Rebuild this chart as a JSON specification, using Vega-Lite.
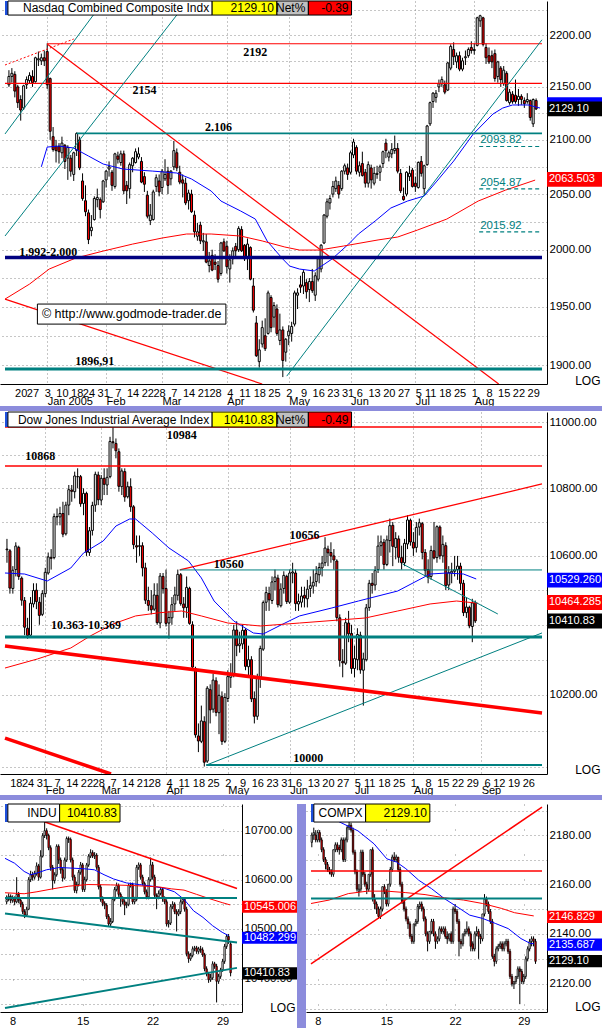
{
"$schema":"https://vega.github.io/schema/vega-lite/v6.json",
"padding":0,
"background":"#ffffff",
"config":{"view":{"stroke":null},"font":"Liberation Sans","axis":{"labelFont":"Liberation Sans","labelColor":"#000000","titleFont":"Liberation Sans","titleColor":"#000000"}},
"datasets":{
"nq":[{"i":-4,"o":2152,"h":2166,"l":2150,"c":2160},{"i":-3,"o":2160,"h":2168,"l":2154,"c":2163},{"i":-2,"o":2162,"h":2165,"l":2140,"c":2146},{"i":-1,"o":2150,"h":2152,"l":2130,"c":2135},{"i":0,"o":2138,"h":2142,"l":2118,"c":2128},{"i":1,"o":2130,"h":2152,"l":2128,"c":2151},{"i":2,"o":2152,"h":2160,"l":2148,"c":2157},{"i":3,"o":2156,"h":2164,"l":2153,"c":2161},{"i":4,"o":2160,"h":2166,"l":2150,"c":2154},{"i":5,"o":2155,"h":2179,"l":2154,"c":2178},{"i":6,"o":2176,"h":2184,"l":2170,"c":2177},{"i":7,"o":2175,"h":2182,"l":2171,"c":2178},{"i":8,"o":2178,"h":2185,"l":2170,"c":2175},{"i":9,"o":2184,"h":2192,"l":2148,"c":2152},{"i":10,"o":2158,"h":2159,"l":2100,"c":2108},{"i":11,"o":2103,"h":2112,"l":2089,"c":2091},{"i":12,"o":2094,"h":2100,"l":2079,"c":2090},{"i":13,"o":2094,"h":2097,"l":2078,"c":2089},{"i":14,"o":2088,"h":2103,"l":2083,"c":2097},{"i":15,"o":2095,"h":2096,"l":2073,"c":2080},{"i":16,"o":2083,"h":2095,"l":2063,"c":2093},{"i":17,"o":2083,"h":2086,"l":2066,"c":2071},{"i":18,"o":2068,"h":2089,"l":2062,"c":2088},{"i":19,"o":2090,"h":2107,"l":2085,"c":2106},{"i":20,"o":2100,"h":2103,"l":2072,"c":2074},{"i":21,"o":2062,"h":2069,"l":2044,"c":2046},{"i":22,"o":2044,"h":2058,"l":2030,"c":2034},{"i":23,"o":2033,"h":2036,"l":2005,"c":2009},{"i":24,"o":2017,"h":2031,"l":2012,"c":2020},{"i":25,"o":2027,"h":2048,"l":2026,"c":2046},{"i":26,"o":2045,"h":2055,"l":2038,"c":2047},{"i":27,"o":2045,"h":2047,"l":2028,"c":2036},{"i":28,"o":2043,"h":2063,"l":2042,"c":2062},{"i":29,"o":2063,"h":2072,"l":2056,"c":2071},{"i":30,"o":2073,"h":2080,"l":2066,"c":2075},{"i":31,"o":2070,"h":2072,"l":2053,"c":2058},{"i":32,"o":2057,"h":2088,"l":2055,"c":2087},{"i":33,"o":2085,"h":2089,"l":2078,"c":2082},{"i":34,"o":2079,"h":2090,"l":2076,"c":2087},{"i":35,"o":2087,"h":2090,"l":2050,"c":2053},{"i":36,"o":2058,"h":2062,"l":2041,"c":2053},{"i":37,"o":2055,"h":2079,"l":2046,"c":2077},{"i":38,"o":2076,"h":2084,"l":2070,"c":2083},{"i":39,"o":2079,"h":2092,"l":2078,"c":2089},{"i":40,"o":2084,"h":2093,"l":2082,"c":2087},{"i":41,"o":2080,"h":2084,"l":2060,"c":2061},{"i":42,"o":2066,"h":2070,"l":2052,"c":2059},{"i":43,"o":2049,"h":2053,"l":2028,"c":2030},{"i":44,"o":2026,"h":2041,"l":2022,"c":2031},{"i":45,"o":2027,"h":2054,"l":2026,"c":2052},{"i":46,"o":2057,"h":2068,"l":2052,"c":2065},{"i":47,"o":2062,"h":2068,"l":2048,"c":2052},{"i":48,"o":2056,"h":2073,"l":2050,"c":2071},{"i":49,"o":2064,"h":2082,"l":2062,"c":2068},{"i":50,"o":2071,"h":2075,"l":2050,"c":2058},{"i":51,"o":2064,"h":2072,"l":2058,"c":2071},{"i":52,"o":2075,"h":2099,"l":2072,"c":2090},{"i":53,"o":2088,"h":2092,"l":2071,"c":2074},{"i":54,"o":2070,"h":2076,"l":2059,"c":2061},{"i":55,"o":2063,"h":2068,"l":2047,"c":2060},{"i":56,"o":2060,"h":2065,"l":2040,"c":2042},{"i":57,"o":2044,"h":2054,"l":2036,"c":2051},{"i":58,"o":2050,"h":2054,"l":2033,"c":2034},{"i":59,"o":2031,"h":2035,"l":2011,"c":2016},{"i":60,"o":2012,"h":2024,"l":2008,"c":2016},{"i":61,"o":2022,"h":2025,"l":2005,"c":2008},{"i":62,"o":2007,"h":2015,"l":1999,"c":2008},{"i":63,"o":2007,"h":2014,"l":1988,"c":1989},{"i":64,"o":1986,"h":1998,"l":1980,"c":1990},{"i":65,"o":1995,"h":2000,"l":1981,"c":1982},{"i":66,"o":1989,"h":1996,"l":1982,"c":1987},{"i":67,"o":1986,"h":1990,"l":1971,"c":1974},{"i":68,"o":1979,"h":2007,"l":1977,"c":2006},{"i":69,"o":2007,"h":2010,"l":1998,"c":1999},{"i":70,"o":2003,"h":2008,"l":1979,"c":1985},{"i":71,"o":1983,"h":1996,"l":1971,"c":1991},{"i":72,"o":1992,"h":2002,"l":1987,"c":1999},{"i":73,"o":2003,"h":2006,"l":1994,"c":1999},{"i":74,"o":2000,"h":2021,"l":1998,"c":2019},{"i":75,"o":2018,"h":2021,"l":1998,"c":1999},{"i":76,"o":2004,"h":2005,"l":1990,"c":1992},{"i":77,"o":1993,"h":2010,"l":1982,"c":2005},{"i":78,"o":2002,"h":2003,"l":1973,"c":1974},{"i":79,"o":1968,"h":1975,"l":1945,"c":1947},{"i":80,"o":1936,"h":1942,"l":1907,"c":1908},{"i":81,"o":1903,"h":1922,"l":1898,"c":1913},{"i":82,"o":1918,"h":1938,"l":1915,"c":1932},{"i":83,"o":1925,"h":1940,"l":1912,"c":1914},{"i":84,"o":1927,"h":1964,"l":1926,"c":1962},{"i":85,"o":1958,"h":1960,"l":1928,"c":1932},{"i":86,"o":1941,"h":1954,"l":1932,"c":1951},{"i":87,"o":1948,"h":1952,"l":1925,"c":1927},{"i":88,"o":1921,"h":1944,"l":1917,"c":1930},{"i":89,"o":1930,"h":1933,"l":1890,"c":1904},{"i":90,"o":1911,"h":1923,"l":1903,"c":1922},{"i":91,"o":1925,"h":1934,"l":1917,"c":1929},{"i":92,"o":1927,"h":1937,"l":1920,"c":1933},{"i":93,"o":1935,"h":1964,"l":1933,"c":1962},{"i":94,"o":1960,"h":1966,"l":1948,"c":1962},{"i":95,"o":1969,"h":1977,"l":1962,"c":1967},{"i":96,"o":1968,"h":1982,"l":1961,"c":1980},{"i":97,"o":1971,"h":1974,"l":1957,"c":1963},{"i":98,"o":1965,"h":1975,"l":1954,"c":1972},{"i":99,"o":1972,"h":1983,"l":1962,"c":1964},{"i":100,"o":1960,"h":1980,"l":1955,"c":1977},{"i":101,"o":1974,"h":1993,"l":1972,"c":1992},{"i":102,"o":1983,"h":2005,"l":1980,"c":2004},{"i":103,"o":2006,"h":2032,"l":2005,"c":2031},{"i":104,"o":2030,"h":2046,"l":2028,"c":2043},{"i":105,"o":2042,"h":2049,"l":2036,"c":2046},{"i":106,"o":2050,"h":2062,"l":2047,"c":2057},{"i":107,"o":2055,"h":2066,"l":2052,"c":2062},{"i":108,"o":2058,"h":2062,"l":2046,"c":2050},{"i":109,"o":2055,"h":2072,"l":2053,"c":2071},{"i":110,"o":2071,"h":2078,"l":2068,"c":2076},{"i":111,"o":2074,"h":2078,"l":2063,"c":2068},{"i":112,"o":2070,"h":2090,"l":2068,"c":2088},{"i":113,"o":2086,"h":2101,"l":2083,"c":2098},{"i":114,"o":2093,"h":2095,"l":2068,"c":2071},{"i":115,"o":2070,"h":2080,"l":2066,"c":2076},{"i":116,"o":2078,"h":2089,"l":2066,"c":2067},{"i":117,"o":2070,"h":2073,"l":2056,"c":2060},{"i":118,"o":2060,"h":2080,"l":2056,"c":2077},{"i":119,"o":2074,"h":2077,"l":2055,"c":2063},{"i":120,"o":2060,"h":2075,"l":2058,"c":2069},{"i":121,"o":2068,"h":2076,"l":2064,"c":2069},{"i":122,"o":2070,"h":2077,"l":2062,"c":2075},{"i":123,"o":2078,"h":2090,"l":2074,"c":2089},{"i":124,"o":2097,"h":2101,"l":2083,"c":2090},{"i":125,"o":2084,"h":2090,"l":2080,"c":2088},{"i":126,"o":2087,"h":2097,"l":2083,"c":2091},{"i":127,"o":2090,"h":2104,"l":2087,"c":2092},{"i":128,"o":2092,"h":2097,"l":2069,"c":2071},{"i":129,"o":2069,"h":2073,"l":2051,"c":2053},{"i":130,"o":2048,"h":2056,"l":2044,"c":2045},{"i":131,"o":2050,"h":2071,"l":2048,"c":2070},{"i":132,"o":2066,"h":2076,"l":2062,"c":2069},{"i":133,"o":2072,"h":2074,"l":2056,"c":2057},{"i":134,"o":2060,"h":2066,"l":2052,"c":2057},{"i":135,"o":2056,"h":2080,"l":2055,"c":2079},{"i":136,"o":2080,"h":2085,"l":2066,"c":2069},{"i":137,"o":2055,"h":2077,"l":2050,"c":2076},{"i":138,"o":2077,"h":2114,"l":2076,"c":2113},{"i":139,"o":2115,"h":2136,"l":2113,"c":2135},{"i":140,"o":2136,"h":2145,"l":2130,"c":2144},{"i":141,"o":2140,"h":2147,"l":2135,"c":2144},{"i":142,"o":2150,"h":2157,"l":2145,"c":2153},{"i":143,"o":2153,"h":2160,"l":2150,"c":2157},{"i":144,"o":2152,"h":2156,"l":2143,"c":2145},{"i":145,"o":2147,"h":2174,"l":2146,"c":2173},{"i":146,"o":2168,"h":2191,"l":2166,"c":2189},{"i":147,"o":2186,"h":2193,"l":2171,"c":2179},{"i":148,"o":2174,"h":2183,"l":2168,"c":2180},{"i":149,"o":2180,"h":2184,"l":2165,"c":2167},{"i":150,"o":2167,"h":2178,"l":2165,"c":2175},{"i":151,"o":2178,"h":2185,"l":2171,"c":2179},{"i":152,"o":2180,"h":2188,"l":2178,"c":2186},{"i":153,"o":2188,"h":2194,"l":2182,"c":2185},{"i":154,"o":2185,"h":2192,"l":2181,"c":2186},{"i":155,"o":2190,"h":2218,"l":2189,"c":2217},{"i":156,"o":2214,"h":2220,"l":2208,"c":2219},{"i":157,"o":2217,"h":2218,"l":2189,"c":2191},{"i":158,"o":2188,"h":2192,"l":2172,"c":2178},{"i":159,"o":2180,"h":2188,"l":2172,"c":2174},{"i":160,"o":2180,"h":2185,"l":2168,"c":2174},{"i":161,"o":2182,"h":2186,"l":2155,"c":2158},{"i":162,"o":2160,"h":2175,"l":2154,"c":2174},{"i":163,"o":2168,"h":2170,"l":2150,"c":2157},{"i":164,"o":2153,"h":2170,"l":2151,"c":2166},{"i":165,"o":2163,"h":2165,"l":2136,"c":2137},{"i":166,"o":2135,"h":2148,"l":2133,"c":2145},{"i":167,"o":2143,"h":2146,"l":2134,"c":2136},{"i":168,"o":2142,"h":2157,"l":2134,"c":2136},{"i":169,"o":2138,"h":2148,"l":2132,"c":2141},{"i":170,"o":2141,"h":2143,"l":2133,"c":2138},{"i":171,"o":2137,"h":2140,"l":2130,"c":2134},{"i":172,"o":2136,"h":2144,"l":2134,"c":2138},{"i":173,"o":2137,"h":2138,"l":2118,"c":2121},{"i":174,"o":2115,"h":2139,"l":2112,"c":2138},{"i":175,"o":2137,"h":2139,"l":2128,"c":2129}],
"dj":[{"i":16,"o":10620,"h":10650,"l":10580,"c":10618},{"i":17,"o":10615,"h":10620,"l":10490,"c":10506},{"i":18,"o":10505,"h":10570,"l":10490,"c":10558},{"i":19,"o":10560,"h":10640,"l":10540,"c":10629},{"i":20,"o":10625,"h":10630,"l":10530,"c":10540},{"i":21,"o":10535,"h":10540,"l":10455,"c":10471},{"i":22,"o":10470,"h":10480,"l":10370,"c":10393},{"i":23,"o":10390,"h":10420,"l":10360,"c":10369},{"i":24,"o":10370,"h":10480,"l":10365,"c":10462},{"i":25,"o":10460,"h":10520,"l":10450,"c":10499},{"i":26,"o":10500,"h":10520,"l":10445,"c":10467},{"i":27,"o":10465,"h":10480,"l":10400,"c":10427},{"i":28,"o":10430,"h":10500,"l":10425,"c":10490},{"i":29,"o":10490,"h":10565,"l":10480,"c":10552},{"i":30,"o":10550,"h":10610,"l":10545,"c":10597},{"i":31,"o":10595,"h":10620,"l":10560,"c":10593},{"i":32,"o":10595,"h":10725,"l":10590,"c":10716},{"i":33,"o":10715,"h":10740,"l":10690,"c":10716},{"i":34,"o":10715,"h":10745,"l":10690,"c":10725},{"i":35,"o":10725,"h":10760,"l":10655,"c":10664},{"i":36,"o":10665,"h":10760,"l":10660,"c":10750},{"i":37,"o":10750,"h":10810,"l":10720,"c":10796},{"i":38,"o":10795,"h":10810,"l":10760,"c":10791},{"i":39,"o":10790,"h":10850,"l":10770,"c":10837},{"i":40,"o":10835,"h":10860,"l":10800,"c":10835},{"i":41,"o":10835,"h":10840,"l":10745,"c":10754},{"i":42,"o":10755,"h":10800,"l":10720,"c":10785},{"i":43,"o":10785,"h":10790,"l":10600,"c":10611},{"i":44,"o":10610,"h":10685,"l":10600,"c":10674},{"i":45,"o":10675,"h":10760,"l":10660,"c":10749},{"i":46,"o":10750,"h":10850,"l":10730,"c":10842},{"i":47,"o":10840,"h":10850,"l":10750,"c":10766},{"i":48,"o":10765,"h":10840,"l":10750,"c":10830},{"i":49,"o":10830,"h":10860,"l":10780,"c":10812},{"i":50,"o":10810,"h":10860,"l":10780,"c":10833},{"i":51,"o":10835,"h":10955,"l":10830,"c":10941},{"i":52,"o":10940,"h":10984,"l":10920,"c":10937},{"i":53,"o":10935,"h":10950,"l":10890,"c":10913},{"i":54,"o":10910,"h":10920,"l":10790,"c":10806},{"i":55,"o":10805,"h":10860,"l":10780,"c":10852},{"i":56,"o":10850,"h":10860,"l":10760,"c":10774},{"i":57,"o":10775,"h":10820,"l":10770,"c":10805},{"i":58,"o":10805,"h":10830,"l":10730,"c":10745},{"i":59,"o":10745,"h":10750,"l":10620,"c":10633},{"i":60,"o":10630,"h":10660,"l":10580,"c":10626},{"i":61,"o":10628,"h":10660,"l":10600,"c":10630},{"i":62,"o":10630,"h":10640,"l":10540,"c":10565},{"i":63,"o":10565,"h":10580,"l":10460,"c":10471},{"i":64,"o":10470,"h":10510,"l":10440,"c":10456},{"i":65,"o":10455,"h":10500,"l":10430,"c":10443},{"i":66,"o":10445,"h":10520,"l":10440,"c":10486},{"i":67,"o":10485,"h":10520,"l":10400,"c":10406},{"i":68,"o":10405,"h":10550,"l":10390,"c":10541},{"i":69,"o":10540,"h":10550,"l":10490,"c":10504},{"i":70,"o":10505,"h":10560,"l":10395,"c":10404},{"i":71,"o":10405,"h":10440,"l":10360,"c":10421},{"i":72,"o":10420,"h":10480,"l":10400,"c":10458},{"i":73,"o":10460,"h":10510,"l":10440,"c":10486},{"i":74,"o":10485,"h":10560,"l":10470,"c":10546},{"i":75,"o":10545,"h":10550,"l":10455,"c":10461},{"i":76,"o":10460,"h":10480,"l":10420,"c":10449},{"i":77,"o":10450,"h":10540,"l":10420,"c":10508},{"i":78,"o":10505,"h":10510,"l":10400,"c":10404},{"i":79,"o":10400,"h":10410,"l":10270,"c":10279},{"i":80,"o":10275,"h":10280,"l":10080,"c":10088},{"i":81,"o":10085,"h":10120,"l":10040,"c":10071},{"i":82,"o":10070,"h":10170,"l":10065,"c":10127},{"i":83,"o":10125,"h":10140,"l":10000,"c":10012},{"i":84,"o":10015,"h":10225,"l":10010,"c":10219},{"i":85,"o":10215,"h":10230,"l":10120,"c":10158},{"i":86,"o":10160,"h":10260,"l":10150,"c":10242},{"i":87,"o":10240,"h":10250,"l":10140,"c":10151},{"i":88,"o":10150,"h":10230,"l":10090,"c":10199},{"i":89,"o":10195,"h":10210,"l":10060,"c":10070},{"i":90,"o":10070,"h":10205,"l":10065,"c":10193},{"i":91,"o":10190,"h":10270,"l":10180,"c":10252},{"i":92,"o":10250,"h":10290,"l":10220,"c":10257},{"i":93,"o":10255,"h":10400,"l":10250,"c":10385},{"i":94,"o":10385,"h":10410,"l":10310,"c":10340},{"i":95,"o":10340,"h":10380,"l":10320,"c":10345},{"i":96,"o":10345,"h":10400,"l":10330,"c":10384},{"i":97,"o":10385,"h":10390,"l":10270,"c":10281},{"i":98,"o":10280,"h":10340,"l":10250,"c":10300},{"i":99,"o":10300,"h":10310,"l":10180,"c":10189},{"i":100,"o":10190,"h":10210,"l":10120,"c":10140},{"i":101,"o":10140,"h":10260,"l":10130,"c":10252},{"i":102,"o":10250,"h":10340,"l":10220,"c":10332},{"i":103,"o":10330,"h":10470,"l":10325,"c":10464},{"i":104,"o":10465,"h":10510,"l":10440,"c":10493},{"i":105,"o":10490,"h":10510,"l":10440,"c":10472},{"i":106,"o":10470,"h":10540,"l":10460,"c":10524},{"i":107,"o":10525,"h":10560,"l":10500,"c":10538},{"i":108,"o":10535,"h":10545,"l":10450,"c":10458},{"i":109,"o":10455,"h":10520,"l":10450,"c":10503},{"i":110,"o":10505,"h":10555,"l":10490,"c":10543},{"i":111,"o":10540,"h":10545,"l":10460,"c":10467},{"i":112,"o":10465,"h":10560,"l":10460,"c":10550},{"i":113,"o":10550,"h":10580,"l":10520,"c":10553},{"i":114,"o":10550,"h":10560,"l":10440,"c":10461},{"i":115,"o":10460,"h":10490,"l":10440,"c":10467},{"i":116,"o":10465,"h":10510,"l":10450,"c":10483},{"i":117,"o":10485,"h":10510,"l":10450,"c":10477},{"i":118,"o":10475,"h":10530,"l":10450,"c":10503},{"i":119,"o":10505,"h":10540,"l":10480,"c":10513},{"i":120,"o":10512,"h":10560,"l":10490,"c":10523},{"i":121,"o":10525,"h":10570,"l":10510,"c":10548},{"i":122,"o":10545,"h":10580,"l":10520,"c":10566},{"i":123,"o":10565,"h":10600,"l":10540,"c":10579},{"i":124,"o":10580,"h":10655,"l":10570,"c":10623},{"i":125,"o":10620,"h":10630,"l":10570,"c":10609},{"i":126,"o":10610,"h":10640,"l":10580,"c":10600},{"i":127,"o":10600,"h":10620,"l":10560,"c":10588},{"i":128,"o":10585,"h":10590,"l":10410,"c":10421},{"i":129,"o":10420,"h":10430,"l":10280,"c":10298},{"i":130,"o":10295,"h":10330,"l":10250,"c":10291},{"i":131,"o":10290,"h":10420,"l":10285,"c":10406},{"i":132,"o":10405,"h":10440,"l":10350,"c":10374},{"i":133,"o":10375,"h":10400,"l":10260,"c":10275},{"i":134,"o":10275,"h":10340,"l":10250,"c":10303},{"i":135,"o":10300,"h":10390,"l":10270,"c":10372},{"i":136,"o":10370,"h":10380,"l":10260,"c":10271},{"i":137,"o":10270,"h":10320,"l":10170,"c":10302},{"i":138,"o":10300,"h":10460,"l":10295,"c":10449},{"i":139,"o":10450,"h":10530,"l":10440,"c":10520},{"i":140,"o":10520,"h":10550,"l":10490,"c":10514},{"i":141,"o":10515,"h":10570,"l":10500,"c":10557},{"i":142,"o":10560,"h":10660,"l":10550,"c":10629},{"i":143,"o":10630,"h":10660,"l":10600,"c":10641},{"i":144,"o":10640,"h":10650,"l":10560,"c":10575},{"i":145,"o":10575,"h":10660,"l":10570,"c":10647},{"i":146,"o":10645,"h":10710,"l":10610,"c":10689},{"i":147,"o":10690,"h":10700,"l":10570,"c":10628},{"i":148,"o":10625,"h":10670,"l":10590,"c":10651},{"i":149,"o":10650,"h":10660,"l":10580,"c":10596},{"i":150,"o":10595,"h":10630,"l":10560,"c":10580},{"i":151,"o":10580,"h":10650,"l":10570,"c":10637},{"i":152,"o":10635,"h":10720,"l":10620,"c":10706},{"i":153,"o":10705,"h":10710,"l":10630,"c":10641},{"i":154,"o":10640,"h":10670,"l":10600,"c":10623},{"i":155,"o":10625,"h":10700,"l":10610,"c":10684},{"i":156,"o":10685,"h":10710,"l":10660,"c":10698},{"i":157,"o":10695,"h":10700,"l":10590,"c":10610},{"i":158,"o":10610,"h":10620,"l":10540,"c":10558},{"i":159,"o":10560,"h":10590,"l":10520,"c":10537},{"i":160,"o":10540,"h":10630,"l":10530,"c":10616},{"i":161,"o":10615,"h":10700,"l":10590,"c":10594},{"i":162,"o":10595,"h":10690,"l":10580,"c":10686},{"i":163,"o":10685,"h":10690,"l":10590,"c":10600},{"i":164,"o":10600,"h":10660,"l":10580,"c":10634},{"i":165,"o":10630,"h":10640,"l":10500,"c":10513},{"i":166,"o":10515,"h":10570,"l":10500,"c":10551},{"i":167,"o":10550,"h":10580,"l":10520,"c":10555},{"i":168,"o":10555,"h":10600,"l":10540,"c":10559},{"i":169,"o":10560,"h":10600,"l":10530,"c":10570},{"i":170,"o":10570,"h":10580,"l":10500,"c":10520},{"i":171,"o":10520,"h":10530,"l":10425,"c":10435},{"i":172,"o":10435,"h":10480,"l":10420,"c":10451},{"i":173,"o":10450,"h":10455,"l":10390,"c":10397},{"i":174,"o":10395,"h":10475,"l":10350,"c":10463},{"i":175,"o":10463,"h":10470,"l":10405,"c":10411}],
"du":[{"i":0,"o":10555,"h":10568,"l":10550,"c":10560},{"i":1,"o":10560,"h":10572,"l":10556,"c":10566},{"i":2,"o":10566,"h":10570,"l":10552,"c":10558},{"i":3,"o":10558,"h":10568,"l":10553,"c":10562},{"i":4,"o":10562,"h":10566,"l":10548,"c":10555},{"i":5,"o":10555,"h":10605,"l":10552,"c":10570},{"i":6,"o":10570,"h":10575,"l":10552,"c":10558},{"i":7,"o":10558,"h":10562,"l":10544,"c":10550},{"i":8,"o":10550,"h":10555,"l":10530,"c":10535},{"i":9,"o":10535,"h":10540,"l":10522,"c":10528},{"i":10,"o":10528,"h":10545,"l":10525,"c":10540},{"i":11,"o":10540,"h":10605,"l":10538,"c":10600},{"i":12,"o":10600,"h":10618,"l":10595,"c":10610},{"i":13,"o":10610,"h":10616,"l":10598,"c":10605},{"i":14,"o":10605,"h":10618,"l":10600,"c":10612},{"i":15,"o":10612,"h":10635,"l":10608,"c":10628},{"i":16,"o":10628,"h":10632,"l":10598,"c":10605},{"i":17,"o":10605,"h":10660,"l":10602,"c":10648},{"i":18,"o":10648,"h":10695,"l":10645,"c":10690},{"i":19,"o":10690,"h":10718,"l":10685,"c":10700},{"i":20,"o":10700,"h":10705,"l":10682,"c":10690},{"i":21,"o":10690,"h":10694,"l":10660,"c":10665},{"i":22,"o":10665,"h":10670,"l":10618,"c":10625},{"i":23,"o":10625,"h":10630,"l":10580,"c":10598},{"i":24,"o":10598,"h":10615,"l":10592,"c":10610},{"i":25,"o":10610,"h":10672,"l":10606,"c":10668},{"i":26,"o":10668,"h":10672,"l":10632,"c":10640},{"i":27,"o":10640,"h":10645,"l":10612,"c":10620},{"i":28,"o":10620,"h":10625,"l":10596,"c":10603},{"i":29,"o":10603,"h":10645,"l":10600,"c":10640},{"i":30,"o":10640,"h":10688,"l":10636,"c":10684},{"i":31,"o":10684,"h":10688,"l":10675,"c":10682},{"i":32,"o":10682,"h":10686,"l":10635,"c":10640},{"i":33,"o":10640,"h":10645,"l":10598,"c":10605},{"i":34,"o":10605,"h":10610,"l":10573,"c":10578},{"i":35,"o":10578,"h":10596,"l":10572,"c":10590},{"i":36,"o":10590,"h":10620,"l":10586,"c":10615},{"i":37,"o":10615,"h":10636,"l":10610,"c":10630},{"i":38,"o":10630,"h":10634,"l":10575,"c":10580},{"i":39,"o":10580,"h":10606,"l":10575,"c":10600},{"i":40,"o":10600,"h":10634,"l":10596,"c":10630},{"i":41,"o":10630,"h":10652,"l":10626,"c":10648},{"i":42,"o":10648,"h":10662,"l":10644,"c":10655},{"i":43,"o":10655,"h":10660,"l":10644,"c":10648},{"i":44,"o":10648,"h":10656,"l":10642,"c":10650},{"i":45,"o":10650,"h":10654,"l":10620,"c":10625},{"i":46,"o":10625,"h":10630,"l":10580,"c":10585},{"i":47,"o":10585,"h":10590,"l":10555,"c":10560},{"i":48,"o":10560,"h":10566,"l":10546,"c":10552},{"i":49,"o":10552,"h":10556,"l":10540,"c":10548},{"i":50,"o":10548,"h":10552,"l":10520,"c":10525},{"i":51,"o":10525,"h":10530,"l":10505,"c":10510},{"i":52,"o":10510,"h":10522,"l":10505,"c":10515},{"i":53,"o":10515,"h":10565,"l":10512,"c":10560},{"i":54,"o":10560,"h":10585,"l":10556,"c":10580},{"i":55,"o":10580,"h":10594,"l":10576,"c":10588},{"i":56,"o":10588,"h":10592,"l":10565,"c":10570},{"i":57,"o":10570,"h":10574,"l":10545,"c":10562},{"i":58,"o":10562,"h":10566,"l":10550,"c":10555},{"i":59,"o":10555,"h":10560,"l":10528,"c":10548},{"i":60,"o":10548,"h":10555,"l":10542,"c":10550},{"i":61,"o":10550,"h":10592,"l":10546,"c":10588},{"i":62,"o":10588,"h":10594,"l":10584,"c":10590},{"i":63,"o":10590,"h":10594,"l":10550,"c":10555},{"i":64,"o":10555,"h":10565,"l":10550,"c":10560},{"i":65,"o":10560,"h":10630,"l":10556,"c":10625},{"i":66,"o":10625,"h":10635,"l":10620,"c":10630},{"i":67,"o":10630,"h":10634,"l":10600,"c":10605},{"i":68,"o":10605,"h":10610,"l":10588,"c":10592},{"i":69,"o":10592,"h":10596,"l":10570,"c":10575},{"i":70,"o":10575,"h":10580,"l":10560,"c":10565},{"i":71,"o":10565,"h":10605,"l":10560,"c":10600},{"i":72,"o":10600,"h":10645,"l":10596,"c":10630},{"i":73,"o":10630,"h":10636,"l":10600,"c":10605},{"i":74,"o":10605,"h":10610,"l":10563,"c":10568},{"i":75,"o":10568,"h":10572,"l":10540,"c":10565},{"i":76,"o":10565,"h":10578,"l":10560,"c":10572},{"i":77,"o":10572,"h":10585,"l":10568,"c":10580},{"i":78,"o":10580,"h":10584,"l":10555,"c":10562},{"i":79,"o":10562,"h":10566,"l":10550,"c":10555},{"i":80,"o":10555,"h":10560,"l":10505,"c":10510},{"i":81,"o":10510,"h":10518,"l":10503,"c":10512},{"i":82,"o":10512,"h":10550,"l":10508,"c":10545},{"i":83,"o":10545,"h":10556,"l":10540,"c":10550},{"i":84,"o":10550,"h":10554,"l":10530,"c":10535},{"i":85,"o":10535,"h":10540,"l":10495,"c":10530},{"i":86,"o":10530,"h":10540,"l":10526,"c":10535},{"i":87,"o":10535,"h":10560,"l":10530,"c":10555},{"i":88,"o":10555,"h":10562,"l":10550,"c":10560},{"i":89,"o":10560,"h":10564,"l":10535,"c":10540},{"i":90,"o":10540,"h":10545,"l":10445,"c":10450},{"i":91,"o":10450,"h":10455,"l":10432,"c":10440},{"i":92,"o":10440,"h":10452,"l":10436,"c":10447},{"i":93,"o":10447,"h":10465,"l":10443,"c":10460},{"i":94,"o":10460,"h":10466,"l":10455,"c":10462},{"i":95,"o":10462,"h":10466,"l":10450,"c":10455},{"i":96,"o":10455,"h":10464,"l":10450,"c":10460},{"i":97,"o":10460,"h":10466,"l":10452,"c":10458},{"i":98,"o":10458,"h":10463,"l":10444,"c":10448},{"i":99,"o":10448,"h":10452,"l":10415,"c":10420},{"i":100,"o":10420,"h":10425,"l":10405,"c":10410},{"i":101,"o":10410,"h":10414,"l":10392,"c":10398},{"i":102,"o":10398,"h":10410,"l":10394,"c":10402},{"i":103,"o":10402,"h":10435,"l":10398,"c":10430},{"i":104,"o":10430,"h":10434,"l":10420,"c":10425},{"i":105,"o":10425,"h":10430,"l":10353,"c":10395},{"i":106,"o":10395,"h":10410,"l":10390,"c":10405},{"i":107,"o":10405,"h":10422,"l":10400,"c":10418},{"i":108,"o":10418,"h":10440,"l":10414,"c":10435},{"i":109,"o":10435,"h":10470,"l":10430,"c":10465},{"i":110,"o":10465,"h":10490,"l":10460,"c":10485},{"i":111,"o":10485,"h":10490,"l":10470,"c":10478},{"i":112,"o":10470,"h":10474,"l":10405,"c":10412}],
"cx":[{"i":0,"o":2177,"h":2181,"l":2175,"c":2180},{"i":1,"o":2180,"h":2183,"l":2178,"c":2181},{"i":2,"o":2180,"h":2182,"l":2177,"c":2178},{"i":3,"o":2178,"h":2182,"l":2177,"c":2181},{"i":4,"o":2181,"h":2182,"l":2177,"c":2178},{"i":5,"o":2178,"h":2179,"l":2173,"c":2174},{"i":6,"o":2174,"h":2175,"l":2169,"c":2170},{"i":7,"o":2170,"h":2171,"l":2166,"c":2168},{"i":8,"o":2168,"h":2169,"l":2165,"c":2166},{"i":9,"o":2166,"h":2167,"l":2164,"c":2165},{"i":10,"o":2165,"h":2166,"l":2163,"c":2164},{"i":11,"o":2164,"h":2174,"l":2163,"c":2174},{"i":12,"o":2174,"h":2177,"l":2173,"c":2176},{"i":13,"o":2176,"h":2177,"l":2173,"c":2174},{"i":14,"o":2175,"h":2176,"l":2172,"c":2174},{"i":15,"o":2174,"h":2179,"l":2173,"c":2178},{"i":16,"o":2178,"h":2179,"l":2169,"c":2170},{"i":17,"o":2170,"h":2179,"l":2169,"c":2178},{"i":18,"o":2178,"h":2184,"l":2177,"c":2183},{"i":19,"o":2183,"h":2186,"l":2182,"c":2184},{"i":20,"o":2184,"h":2185,"l":2181,"c":2182},{"i":21,"o":2182,"h":2183,"l":2172,"c":2173},{"i":22,"o":2173,"h":2174,"l":2164,"c":2165},{"i":23,"o":2165,"h":2166,"l":2157,"c":2158},{"i":24,"o":2157,"h":2160,"l":2155,"c":2158},{"i":25,"o":2158,"h":2174,"l":2157,"c":2173},{"i":26,"o":2173,"h":2174,"l":2163,"c":2164},{"i":27,"o":2164,"h":2165,"l":2159,"c":2160},{"i":28,"o":2160,"h":2161,"l":2156,"c":2158},{"i":29,"o":2158,"h":2164,"l":2157,"c":2164},{"i":30,"o":2164,"h":2174,"l":2163,"c":2174},{"i":31,"o":2174,"h":2175,"l":2153,"c":2154},{"i":32,"o":2154,"h":2156,"l":2150,"c":2152},{"i":33,"o":2152,"h":2153,"l":2148,"c":2150},{"i":34,"o":2150,"h":2151,"l":2146,"c":2147},{"i":35,"o":2147,"h":2151,"l":2146,"c":2150},{"i":36,"o":2150,"h":2159,"l":2149,"c":2159},{"i":37,"o":2159,"h":2160,"l":2156,"c":2157},{"i":38,"o":2157,"h":2158,"l":2151,"c":2152},{"i":39,"o":2152,"h":2160,"l":2151,"c":2160},{"i":40,"o":2160,"h":2167,"l":2159,"c":2166},{"i":41,"o":2166,"h":2172,"l":2165,"c":2171},{"i":42,"o":2171,"h":2173,"l":2169,"c":2170},{"i":43,"o":2170,"h":2172,"l":2169,"c":2171},{"i":44,"o":2171,"h":2171,"l":2165,"c":2166},{"i":45,"o":2166,"h":2167,"l":2159,"c":2160},{"i":46,"o":2160,"h":2161,"l":2152,"c":2153},{"i":47,"o":2153,"h":2154,"l":2149,"c":2150},{"i":48,"o":2150,"h":2151,"l":2145,"c":2146},{"i":49,"o":2146,"h":2147,"l":2142,"c":2144},{"i":50,"o":2144,"h":2145,"l":2138,"c":2139},{"i":51,"o":2139,"h":2140,"l":2136,"c":2137},{"i":52,"o":2137,"h":2144,"l":2136,"c":2144},{"i":53,"o":2144,"h":2146,"l":2143,"c":2145},{"i":54,"o":2145,"h":2152,"l":2144,"c":2151},{"i":55,"o":2151,"h":2153,"l":2150,"c":2152},{"i":56,"o":2152,"h":2153,"l":2149,"c":2150},{"i":57,"o":2150,"h":2151,"l":2145,"c":2146},{"i":58,"o":2146,"h":2147,"l":2139,"c":2140},{"i":59,"o":2140,"h":2141,"l":2133,"c":2137},{"i":60,"o":2137,"h":2141,"l":2136,"c":2141},{"i":61,"o":2141,"h":2146,"l":2140,"c":2145},{"i":62,"o":2145,"h":2146,"l":2139,"c":2140},{"i":63,"o":2140,"h":2141,"l":2134,"c":2137},{"i":64,"o":2137,"h":2139,"l":2136,"c":2138},{"i":65,"o":2138,"h":2143,"l":2137,"c":2142},{"i":66,"o":2142,"h":2143,"l":2140,"c":2141},{"i":67,"o":2141,"h":2143,"l":2140,"c":2142},{"i":68,"o":2142,"h":2143,"l":2138,"c":2139},{"i":69,"o":2139,"h":2141,"l":2136,"c":2138},{"i":70,"o":2138,"h":2140,"l":2137,"c":2140},{"i":71,"o":2140,"h":2141,"l":2136,"c":2137},{"i":72,"o":2137,"h":2151,"l":2136,"c":2150},{"i":73,"o":2150,"h":2152,"l":2148,"c":2149},{"i":74,"o":2149,"h":2150,"l":2144,"c":2145},{"i":75,"o":2145,"h":2146,"l":2131,"c":2137},{"i":76,"o":2137,"h":2138,"l":2134,"c":2136},{"i":77,"o":2136,"h":2140,"l":2135,"c":2140},{"i":78,"o":2140,"h":2142,"l":2139,"c":2141},{"i":79,"o":2141,"h":2145,"l":2140,"c":2142},{"i":80,"o":2142,"h":2143,"l":2139,"c":2140},{"i":81,"o":2140,"h":2141,"l":2133,"c":2135},{"i":82,"o":2136,"h":2137,"l":2133,"c":2134},{"i":83,"o":2134,"h":2141,"l":2133,"c":2140},{"i":84,"o":2140,"h":2143,"l":2139,"c":2141},{"i":85,"o":2141,"h":2142,"l":2130,"c":2139},{"i":86,"o":2139,"h":2140,"l":2136,"c":2138},{"i":87,"o":2138,"h":2148,"l":2137,"c":2148},{"i":88,"o":2148,"h":2156,"l":2147,"c":2154},{"i":89,"o":2154,"h":2155,"l":2151,"c":2152},{"i":90,"o":2152,"h":2153,"l":2148,"c":2149},{"i":91,"o":2149,"h":2150,"l":2144,"c":2145},{"i":92,"o":2145,"h":2146,"l":2130,"c":2131},{"i":93,"o":2131,"h":2132,"l":2127,"c":2129},{"i":94,"o":2129,"h":2135,"l":2128,"c":2134},{"i":95,"o":2134,"h":2136,"l":2133,"c":2135},{"i":96,"o":2135,"h":2137,"l":2134,"c":2136},{"i":97,"o":2136,"h":2137,"l":2133,"c":2134},{"i":98,"o":2134,"h":2137,"l":2133,"c":2136},{"i":99,"o":2136,"h":2138,"l":2135,"c":2137},{"i":100,"o":2137,"h":2138,"l":2132,"c":2133},{"i":101,"o":2133,"h":2134,"l":2122,"c":2123},{"i":102,"o":2123,"h":2124,"l":2119,"c":2120},{"i":103,"o":2120,"h":2121,"l":2118,"c":2121},{"i":104,"o":2121,"h":2123,"l":2120,"c":2123},{"i":105,"o":2123,"h":2127,"l":2122,"c":2126},{"i":106,"o":2126,"h":2127,"l":2112,"c":2125},{"i":107,"o":2125,"h":2126,"l":2120,"c":2121},{"i":108,"o":2121,"h":2124,"l":2120,"c":2123},{"i":109,"o":2123,"h":2131,"l":2122,"c":2130},{"i":110,"o":2130,"h":2135,"l":2129,"c":2134},{"i":111,"o":2134,"h":2138,"l":2133,"c":2137},{"i":112,"o":2137,"h":2139,"l":2135,"c":2138},{"i":113,"o":2138,"h":2139,"l":2135,"c":2137},{"i":114,"o":2137,"h":2138,"l":2128,"c":2129}]
},
"spacing":0,
"resolve":{"scale":{"x":"independent","y":"independent","color":"independent","fill":"independent"}},
"vconcat":[
 {"width":547,"height":383,"resolve":{"axis":{"x":"independent","y":"independent"}},
  "layer":[
   {"data":{"name":"nq"},"mark":{"type":"rule","color":"#000000","strokeWidth":1},
    "encoding":{
     "x":{"field":"i","type":"quantitative","scale":{"domain":[-5.333,177],"nice":false,"zero":false},
          "axis":{"orient":"bottom","values":[9,29,48,70,91,112,134,154],"labelExpr":"['Jan 2005','Feb','Mar','Apr','May','Jun','Jul','Aug'][indexof([9,29,48,70,91,112,134,154], datum.value)]","labelAlign":"left","labelPadding":1,"offset":10,"ticks":false,"domain":false,"grid":true,"gridDash":[1,3],"gridColor":"#8c8c8c","labelFontSize":11,"title":null,"labelOverlap":false,"labelFlush":false}},
     "y":{"field":"l","type":"quantitative","scale":{"type":"log","domain":[1884.2,2233.6],"nice":false,"zero":false},
          "axis":{"orient":"right","values":[1900,1925,1950,1975,2000,2025,2050,2075,2100,2125,2150,2175,2200,2225],"labelExpr":"datum.value % 50 == 0 ? format(datum.value, '.2f') : ''","ticks":false,"domain":true,"domainColor":"#000000","grid":true,"gridDash":[1,3],"gridColor":"#8c8c8c","labelPadding":2,"labelFontSize":11.5,"labelOverlap":false,"labelFlush":false,"title":"LOG","titleAngle":0,"titleAlign":"right","titleBaseline":"alphabetic","titleX":53,"titleY":383,"titleFontSize":12,"titleFontWeight":"normal"}},
     "y2":{"field":"h"}}},
   {"data":{"name":"nq"},"mark":{"type":"bar","width":2,"stroke":"#000000","strokeWidth":1},
    "encoding":{
     "x":{"field":"i","type":"quantitative","axis":{"orient":"bottom","values":[0,4,9,14,19,23,28,33,38,43,47,52,57,62,66,71,76,81,86,91,96,101,106,111,115,120,125,130,135,139,144,149,154,159,164,169,174],"labelExpr":"['20','27','3','10','18','24','31','7','14','22','28','7','14','21','28','4','11','18','25','2','9','16','23','31','6','13','20','27','5','11','18','25','1','8','15','22','29'][indexof([0,4,9,14,19,23,28,33,38,43,47,52,57,62,66,71,76,81,86,91,96,101,106,111,115,120,125,130,135,139,144,149,154,159,164,169,174], datum.value)]","ticks":false,"domain":true,"domainColor":"#000000","grid":false,"labelPadding":3,"labelFontSize":11,"title":null,"labelOverlap":false,"labelFlush":false}},
     "y":{"field":"o","type":"quantitative","axis":null},
     "y2":{"field":"c"},
     "fill":{"condition":{"test":"datum.c >= datum.o","value":"#ffffff"},"value":"#ff0000"}}},
   {"data":{"values":[{"i":7,"v":2075},{"i":9,"v":2093.3},{"i":13,"v":2094.2},{"i":18,"v":2092.4},{"i":23,"v":2085.0},{"i":28,"v":2077.6},{"i":34.67,"v":2073.0},{"i":44.67,"v":2071.1},{"i":53,"v":2069.3},{"i":58,"v":2063.8},{"i":64.67,"v":2052.8},{"i":68,"v":2043.7},{"i":74.67,"v":2034.7},{"i":79.67,"v":2027.4},{"i":83.67,"v":2007.8},{"i":89,"v":1991.7},{"i":91.33,"v":1985.5},{"i":94.67,"v":1982.9},{"i":99.67,"v":1981.2},{"i":105.67,"v":1991.7},{"i":111.33,"v":2005.0},{"i":114.67,"v":2014.0},{"i":120.33,"v":2025.6},{"i":125.67,"v":2037.4},{"i":131.33,"v":2043.7},{"i":137,"v":2048.3},{"i":141.33,"v":2061.9},{"i":147,"v":2080.3},{"i":153.67,"v":2105.5},{"i":160.33,"v":2124.2},{"i":163.67,"v":2129.9},{"i":167,"v":2132.8},{"i":172.33,"v":2132.8},{"i":176.33,"v":2129.9}]},
    "mark":{"type":"line","color":"#0000ff","strokeWidth":1,"clip":true},
    "encoding":{"x":{"field":"i","type":"quantitative","axis":null},"y":{"field":"v","type":"quantitative","axis":null}}},
   {"data":{"values":[{"i":-5.33,"v":1956.6},{"i":3,"v":1969.7},{"i":9.67,"v":1982.9},{"i":18.67,"v":1992.6},{"i":28,"v":1998.8},{"i":38,"v":2005.0},{"i":48,"v":2010.4},{"i":56.33,"v":2014.0},{"i":64.67,"v":2014.0},{"i":74.67,"v":2012.2},{"i":82,"v":2007.8},{"i":89.67,"v":2002.4},{"i":94.67,"v":1999.7},{"i":101.33,"v":1999.7},{"i":109.67,"v":2003.3},{"i":121.33,"v":2008.7},{"i":128,"v":2011.3},{"i":134.67,"v":2017.5},{"i":144.67,"v":2027.4},{"i":155.33,"v":2043.7},{"i":164.67,"v":2053.7},{"i":174.67,"v":2062.8}]},
    "mark":{"type":"line","color":"#ff0000","strokeWidth":1,"clip":true},
    "encoding":{"x":{"field":"i","type":"quantitative","axis":null},"y":{"field":"v","type":"quantitative","axis":null}}},
   {"data":{"values":[{"id":"a","i":9,"v":2191.6},{"id":"a","i":177,"v":2191.6},{"id":"b","i":-5.333,"v":2153.4},{"id":"b","i":177,"v":2153.4},{"id":"c","i":9,"v":2191.3},{"id":"c","i":162.3,"v":1884.2},{"id":"d","i":-5.333,"v":1956.6},{"id":"d","i":82,"v":1884.2}]},
    "mark":{"type":"line","color":"#ff0000","strokeWidth":1.2,"clip":true},
    "encoding":{"x":{"field":"i","type":"quantitative","axis":null},"y":{"field":"v","type":"quantitative","axis":null},"detail":{"field":"id","type":"nominal"}}},
   {"data":{"values":[{"i":-5.333,"v":2171},{"i":18,"v":2196.2}]},
    "mark":{"type":"line","color":"#ff0000","strokeWidth":1,"strokeDash":[2,2],"clip":true},
    "encoding":{"x":{"field":"i","type":"quantitative","axis":null},"y":{"field":"v","type":"quantitative","axis":null}}},
   {"data":{"values":[{"id":"g","i":-5.333,"v":2105.5},{"id":"g","i":28.2,"v":2233.6},{"id":"h","i":-5.333,"v":2012.2},{"id":"h","i":56.7,"v":2233.6},{"id":"k","i":90.33,"v":1890.8},{"id":"k","i":177,"v":2195.5}]},
    "mark":{"type":"line","color":"#008080","strokeWidth":1,"clip":true},
    "encoding":{"x":{"field":"i","type":"quantitative","axis":null},"y":{"field":"v","type":"quantitative","axis":null},"detail":{"field":"id","type":"nominal"}}},
   {"data":{"values":[{"i":19,"v":2106.1},{"i":177,"v":2106.1}]},
    "mark":{"type":"line","color":"#008080","strokeWidth":1.6,"clip":true},
    "encoding":{"x":{"field":"i","type":"quantitative","axis":null},"y":{"field":"v","type":"quantitative","axis":null}}},
   {"data":{"values":[{"i":-5.333,"v":1896.9},{"i":177,"v":1896.9}]},
    "mark":{"type":"line","color":"#008080","strokeWidth":3,"clip":true},
    "encoding":{"x":{"field":"i","type":"quantitative","axis":null},"y":{"field":"v","type":"quantitative","axis":null}}},
   {"data":{"values":[{"i":-5.333,"v":1993},{"i":177,"v":1993}]},
    "mark":{"type":"line","color":"#000080","strokeWidth":3.5,"clip":true},
    "encoding":{"x":{"field":"i","type":"quantitative","axis":null},"y":{"field":"v","type":"quantitative","axis":null}}},
   {"data":{"values":[{"id":"t1","i":155.67,"v":2093.82},{"id":"t1","i":177,"v":2093.82},{"id":"t2","i":155.67,"v":2054.87},{"id":"t2","i":177,"v":2054.87},{"id":"t3","i":155.67,"v":2015.92},{"id":"t3","i":177,"v":2015.92}]},
    "mark":{"type":"line","color":"#008080","strokeWidth":1.2,"strokeDash":[4,3],"clip":true},
    "encoding":{"x":{"field":"i","type":"quantitative","axis":null},"y":{"field":"v","type":"quantitative","axis":null},"detail":{"field":"id","type":"nominal"}}},
   {"data":{"values":[{"i":79.67,"v":2183.6,"t":"2192"},{"i":42,"v":2147.0,"t":"2154"},{"i":67.17,"v":2112.0,"t":"2.106"},{"i":9.33,"v":1998.4,"t":"1.992-2.000"},{"i":25.17,"v":1903.5,"t":"1896,91"}]},
    "mark":{"type":"text","font":"Liberation Serif","fontWeight":"bold","fontSize":12,"align":"center","baseline":"middle","color":"#000000"},
    "encoding":{"x":{"field":"i","type":"quantitative","axis":null},"y":{"field":"v","type":"quantitative","axis":null},"text":{"field":"t"}}},
   {"data":{"values":[{"i":156,"v":2093.82,"t":"2093.82"},{"i":156,"v":2054.87,"t":"2054.87"},{"i":156,"v":2015.92,"t":"2015.92"}]},
    "mark":{"type":"text","fontSize":11.5,"align":"left","baseline":"bottom","dy":-1,"color":"#008080"},
    "encoding":{"x":{"field":"i","type":"quantitative","axis":null},"y":{"field":"v","type":"quantitative","axis":null},"text":{"field":"t"}}},
   {"data":{"values":[{"i0":5.67,"i1":69.67,"v0":1935.0,"v1":1952.3}]},
    "mark":{"type":"rect","fill":"#ffffff","stroke":"#000000","strokeWidth":1},
    "encoding":{"x":{"field":"i0","type":"quantitative","axis":null},"x2":{"field":"i1"},"y":{"field":"v0","type":"quantitative","axis":null},"y2":{"field":"v1"}}},
   {"data":{"values":[{"i":37.67,"v":1943.6,"t":"© http://www.godmode-trader.de"}]},
    "mark":{"type":"text","fontSize":12.5,"align":"center","baseline":"middle","color":"#000000"},
    "encoding":{"x":{"field":"i","type":"quantitative","axis":null},"y":{"field":"v","type":"quantitative","axis":null},"text":{"field":"t"}}},
   {"data":{"values":[{"v":2133,"t":"","k":"b"},{"v":2063.5,"t":"2063.503","k":"r"},{"v":2129.1,"t":"2129.10","k":"k"}]},
    "layer":[
     {"mark":{"type":"point","shape":"M-1,-0.27L1,-0.27L1,0.27L-1,0.27Z","size":3025,"filled":true,"opacity":1,"strokeWidth":0,"xOffset":27.5},
      "encoding":{"x":{"value":"width"},"y":{"field":"v","type":"quantitative","axis":null},"color":{"field":"k","type":"nominal","scale":{"domain":["b","r","k"],"range":["#0000ff","#ff0000","#000000"]},"legend":null}}},
     {"mark":{"type":"text","align":"left","baseline":"middle","dx":2,"fontSize":11,"color":"#ffffff"},
      "encoding":{"x":{"value":"width"},"y":{"field":"v","type":"quantitative","axis":null},"text":{"field":"t"}}}
    ]},
   {"data":{"values":[{"k":"s","i0":-5.333,"i1":-4.333,"t":""},{"k":"w","i0":-4.333,"i1":65,"t":"Nasdaq Combined Composite Indx"},{"k":"y","i0":65,"i1":87,"t":"2129.10"},{"k":"g","i0":87,"i1":97.67,"t":"Net%"},{"k":"r","i0":97.67,"i1":112.33,"t":"-0.39"}]},
    "layer":[
     {"mark":{"type":"rect","stroke":"#000000","strokeWidth":1},
      "encoding":{"x":{"field":"i0","type":"quantitative","axis":null},"x2":{"field":"i1"},"y":{"datum":2233.6,"type":"quantitative","axis":null},"y2":{"datum":2219.7},
       "fill":{"field":"k","type":"nominal","scale":{"domain":["s","w","y","g","r"],"range":["#1e50dc","#ffffff","#ffff00","#c0c0c0","#ff0000"]},"legend":null},
       "strokeOpacity":{"condition":{"test":"datum.k == 's'","value":0},"value":1}}},
     {"mark":{"type":"text","align":"right","baseline":"middle","dx":-3,"fontSize":12,"color":"#000000"},
      "encoding":{"x":{"field":"i1","type":"quantitative","axis":null},"y":{"datum":2226.6,"type":"quantitative","axis":null},"text":{"field":"t"}}}
    ]}
  ]},
 {"width":602,"height":5,"view":{"fill":"#8c8cdc","stroke":null},"data":{"values":[{"t":""}]},"mark":{"type":"text","fontSize":0},"encoding":{"text":{"field":"t"}}},
 {"width":547,"height":362,"resolve":{"axis":{"x":"independent","y":"independent"}},
  "layer":[
   {"data":{"name":"dj"},"mark":{"type":"rule","color":"#000000","strokeWidth":1},
    "encoding":{
     "x":{"field":"i","type":"quantitative","scale":{"domain":[15.333,197.667],"nice":false,"zero":false},
          "axis":{"orient":"bottom","values":[29,48,70,91,112,134,154,177],"labelExpr":"['Feb','Mar','Apr','May','Jun','Jul','Aug','Sep'][indexof([29,48,70,91,112,134,154,177], datum.value)]","labelAlign":"left","labelPadding":1,"offset":9,"ticks":false,"domain":false,"grid":true,"gridDash":[1,3],"gridColor":"#8c8c8c","labelFontSize":11,"title":null,"labelOverlap":false,"labelFlush":false}},
     "y":{"field":"l","type":"quantitative","scale":{"type":"log","domain":[9979.4,11030.5],"nice":false,"zero":false},
          "axis":{"orient":"right","values":[10000,10100,10200,10300,10400,10500,10600,10700,10800,10900,11000],"labelExpr":"datum.value % 200 == 0 && datum.value > 10000 ? format(datum.value, '.2f') : ''","ticks":false,"domain":true,"domainColor":"#000000","grid":true,"gridDash":[1,3],"gridColor":"#8c8c8c","labelPadding":2,"labelFontSize":11.5,"labelOverlap":false,"labelFlush":false,"title":"LOG","titleAngle":0,"titleAlign":"right","titleBaseline":"alphabetic","titleX":53,"titleY":361,"titleFontSize":12,"titleFontWeight":"normal"}},
     "y2":{"field":"h"}}},
   {"data":{"name":"dj"},"mark":{"type":"bar","width":2,"stroke":"#000000","strokeWidth":1},
    "encoding":{
     "x":{"field":"i","type":"quantitative","axis":{"orient":"bottom","values":[19,23,28,33,38,43,47,52,57,62,66,71,76,81,86,91,96,101,106,111,115,120,125,130,135,139,144,149,154,159,164,169,174,179,183,188,193],"labelExpr":"['18','24','31','7','14','22','28','7','14','21','28','4','11','18','25','2','9','16','23','31','6','13','20','27','5','11','18','25','1','8','15','22','29','6','12','19','26'][indexof([19,23,28,33,38,43,47,52,57,62,66,71,76,81,86,91,96,101,106,111,115,120,125,130,135,139,144,149,154,159,164,169,174,179,183,188,193], datum.value)]","ticks":false,"domain":true,"domainColor":"#000000","grid":false,"labelPadding":3,"labelFontSize":11,"title":null,"labelOverlap":false,"labelFlush":false}},
     "y":{"field":"o","type":"quantitative","axis":null},
     "y2":{"field":"c"},
     "fill":{"condition":{"test":"datum.c >= datum.o","value":"#ffffff"},"value":"#ff0000"}}},
   {"data":{"values":[{"i":15.33,"v":10550},{"i":22,"v":10547},{"i":29.67,"v":10526.7},{"i":37.67,"v":10564.6},{"i":42,"v":10608.6},{"i":48.67,"v":10643.8},{"i":53,"v":10688},{"i":57.67,"v":10708.8},{"i":59.67,"v":10708.8},{"i":65.33,"v":10667.4},{"i":71,"v":10623.3},{"i":77.67,"v":10585},{"i":82,"v":10535.5},{"i":86.33,"v":10468.6},{"i":93,"v":10410.8},{"i":99.67,"v":10376.3},{"i":103,"v":10373.5},{"i":109.67,"v":10402},{"i":115.33,"v":10425.4},{"i":126.33,"v":10448.5},{"i":135.33,"v":10468.6},{"i":148.67,"v":10497.6},{"i":159.67,"v":10547},{"i":165.33,"v":10550},{"i":171,"v":10547},{"i":175.33,"v":10532.6}]},
    "mark":{"type":"line","color":"#0000ff","strokeWidth":1,"clip":true},
    "encoding":{"x":{"field":"i","type":"quantitative","axis":null},"y":{"field":"v","type":"quantitative","axis":null}}},
   {"data":{"values":[{"i":15.33,"v":10276.3},{"i":26.33,"v":10302},{"i":37.67,"v":10333.4},{"i":44.33,"v":10368},{"i":52,"v":10402.2},{"i":59.67,"v":10425.4},{"i":67.67,"v":10434.6},{"i":75.33,"v":10439.7},{"i":82,"v":10425.4},{"i":91,"v":10405},{"i":102,"v":10396.5},{"i":115.33,"v":10405},{"i":137.67,"v":10419.5},{"i":148.67,"v":10439.7},{"i":159.67,"v":10460},{"i":168.67,"v":10468.6},{"i":176,"v":10462}]},
    "mark":{"type":"line","color":"#ff0000","strokeWidth":1,"clip":true},
    "encoding":{"x":{"field":"i","type":"quantitative","axis":null},"y":{"field":"v","type":"quantitative","axis":null}}},
   {"data":{"values":[{"id":"a","i":15.333,"v":10984.8},{"id":"a","i":197.667,"v":10984.8},{"id":"b","i":15.333,"v":10867},{"id":"b","i":197.667,"v":10867},{"id":"c","i":74.67,"v":10558.9},{"id":"c","i":197.667,"v":10813}]},
    "mark":{"type":"line","color":"#ff0000","strokeWidth":1.3,"clip":true},
    "encoding":{"x":{"field":"i","type":"quantitative","axis":null},"y":{"field":"v","type":"quantitative","axis":null},"detail":{"field":"id","type":"nominal"}}},
   {"data":{"values":[{"id":"d","i":74.67,"v":10558.9},{"id":"d","i":197.667,"v":10558.9},{"id":"e","i":83.67,"v":10004},{"id":"e","i":197.667,"v":10376.5},{"id":"f","i":150.33,"v":10576.4},{"id":"f","i":182.67,"v":10431}]},
    "mark":{"type":"line","color":"#008080","strokeWidth":1,"clip":true},
    "encoding":{"x":{"field":"i","type":"quantitative","axis":null},"y":{"field":"v","type":"quantitative","axis":null},"detail":{"field":"id","type":"nominal"}}},
   {"data":{"values":[{"i":15.333,"v":10365},{"i":197.667,"v":10365}]},
    "mark":{"type":"line","color":"#008080","strokeWidth":3,"clip":true},
    "encoding":{"x":{"field":"i","type":"quantitative","axis":null},"y":{"field":"v","type":"quantitative","axis":null}}},
   {"data":{"values":[{"i":83.67,"v":10004},{"i":197.667,"v":10004}]},
    "mark":{"type":"line","color":"#008080","strokeWidth":2,"clip":true},
    "encoding":{"x":{"field":"i","type":"quantitative","axis":null},"y":{"field":"v","type":"quantitative","axis":null}}},
   {"data":{"values":[{"id":"i","i":15.333,"v":10339},{"id":"i","i":197.667,"v":10149},{"id":"j","i":15.333,"v":10079},{"id":"j","i":51.33,"v":9979.4}]},
    "mark":{"type":"line","color":"#ff0000","strokeWidth":3.5,"clip":true},
    "encoding":{"x":{"field":"i","type":"quantitative","axis":null},"y":{"field":"v","type":"quantitative","axis":null},"detail":{"field":"id","type":"nominal"}}},
   {"data":{"values":[{"i":75.33,"v":10960.5,"t":"10984"},{"i":27.33,"v":10897,"t":"10868"},{"i":91.33,"v":10576.4,"t":"10560"},{"i":117,"v":10661.5,"t":"10656"},{"i":42.83,"v":10399.4,"t":"10.363-10.369"},{"i":118.33,"v":10023.5,"t":"10000"}]},
    "mark":{"type":"text","font":"Liberation Serif","fontWeight":"bold","fontSize":12,"align":"center","baseline":"middle","color":"#000000"},
    "encoding":{"x":{"field":"i","type":"quantitative","axis":null},"y":{"field":"v","type":"quantitative","axis":null},"text":{"field":"t"}}},
   {"data":{"values":[{"v":10529.26,"t":"10529.260","k":"b"},{"v":10464.285,"t":"10464.285","k":"r"},{"v":10410.83,"t":"10410.83","k":"k"}]},
    "layer":[
     {"mark":{"type":"point","shape":"M-1,-0.27L1,-0.27L1,0.27L-1,0.27Z","size":3025,"filled":true,"opacity":1,"strokeWidth":0,"xOffset":27.5},
      "encoding":{"x":{"value":"width"},"y":{"field":"v","type":"quantitative","axis":null},"color":{"field":"k","type":"nominal","scale":{"domain":["b","r","k"],"range":["#0000ff","#ff0000","#000000"]},"legend":null}}},
     {"mark":{"type":"text","align":"left","baseline":"middle","dx":2,"fontSize":11,"color":"#ffffff"},
      "encoding":{"x":{"value":"width"},"y":{"field":"v","type":"quantitative","axis":null},"text":{"field":"t"}}}
    ]},
   {"data":{"values":[{"k":"s","i0":15.333,"i1":16.333,"t":""},{"k":"w","i0":16.333,"i1":85.667,"t":"Dow Jones Industrial Average Index"},{"k":"y","i0":85.667,"i1":107.667,"t":"10410.83"},{"k":"g","i0":107.667,"i1":118.333,"t":"Net%"},{"k":"r","i0":118.333,"i1":133,"t":"-0.49"}]},
    "layer":[
     {"mark":{"type":"rect","stroke":"#000000","strokeWidth":1},
      "encoding":{"x":{"field":"i0","type":"quantitative","axis":null},"x2":{"field":"i1"},"y":{"datum":11030.5,"type":"quantitative","axis":null},"y2":{"datum":10984.8},
       "fill":{"field":"k","type":"nominal","scale":{"domain":["s","w","y","g","r"],"range":["#1e50dc","#ffffff","#ffff00","#c0c0c0","#ff0000"]},"legend":null},
       "strokeOpacity":{"condition":{"test":"datum.k == 's'","value":0},"value":1}}},
     {"mark":{"type":"text","align":"right","baseline":"middle","dx":-3,"fontSize":12,"color":"#000000"},
      "encoding":{"x":{"field":"i1","type":"quantitative","axis":null},"y":{"datum":11007.6,"type":"quantitative","axis":null},"text":{"field":"t"}}}
    ]}
  ]},
 {"width":602,"height":5,"view":{"fill":"#8c8cdc","stroke":null},"data":{"values":[{"t":""}]},"mark":{"type":"text","fontSize":0},"encoding":{"text":{"field":"t"}}},
 {"spacing":0,"resolve":{"scale":{"x":"independent","y":"independent","color":"independent","fill":"independent"}},"hconcat":[
  {"width":242,"height":208,"resolve":{"axis":{"x":"independent","y":"independent"}},
   "layer":[
    {"data":{"name":"du"},"mark":{"type":"rule","color":"#000000","strokeWidth":1},
     "encoding":{
      "x":{"field":"i","type":"quantitative","scale":{"domain":[-0.83,115.2],"nice":false,"zero":false},
           "axis":{"orient":"bottom","values":[3,38,73,108],"labelExpr":"['8','15','22','29'][indexof([3,38,73,108], datum.value)]","ticks":false,"domain":true,"domainColor":"#000000","grid":true,"gridDash":[1,24],"gridColor":"#8c8c8c","labelPadding":3,"labelFontSize":11,"title":null,"labelOverlap":false,"labelFlush":false}},
      "y":{"field":"l","type":"quantitative","scale":{"type":"log","domain":[10334,10755],"nice":false,"zero":false},
           "axis":{"orient":"right","values":[10350,10400,10450,10500,10550,10600,10650,10700,10750],"labelExpr":"datum.value % 100 == 0 ? format(datum.value, '.2f') : ''","ticks":false,"domain":true,"domainColor":"#000000","grid":true,"gridDash":[1,3],"gridColor":"#8c8c8c","labelPadding":2,"labelFontSize":11.5,"labelOverlap":false,"labelFlush":false,"title":"LOG","titleAngle":0,"titleAlign":"right","titleBaseline":"alphabetic","titleX":53,"titleY":207,"titleFontSize":12,"titleFontWeight":"normal"}},
      "y2":{"field":"h"}}},
    {"data":{"name":"du"},"mark":{"type":"bar","width":1.4,"stroke":"#000000","strokeWidth":0.8},
     "encoding":{
      "x":{"field":"i","type":"quantitative","axis":null},
      "y":{"field":"o","type":"quantitative","axis":null},
      "y2":{"field":"c"},
      "fill":{"condition":{"test":"datum.c >= datum.o","value":"#ffffff"},"value":"#ff0000"}}},
    {"data":{"values":[{"i":-0.83,"v":10643.4},{"i":3.96,"v":10633.4},{"i":8.75,"v":10616.7},{"i":11.95,"v":10610},{"i":15.14,"v":10613.3},{"i":19.9,"v":10620},{"i":26.3,"v":10624.7},{"i":32.7,"v":10623.4},{"i":39.1,"v":10622},{"i":43.9,"v":10620},{"i":48.7,"v":10610},{"i":53.5,"v":10601.3},{"i":59.9,"v":10593.3},{"i":66.3,"v":10590},{"i":72.7,"v":10586.7},{"i":79.1,"v":10582},{"i":83.9,"v":10575.3},{"i":88.7,"v":10560},{"i":93.5,"v":10536.6},{"i":98.2,"v":10523.4},{"i":103,"v":10506.6},{"i":107.8,"v":10493.3},{"i":111,"v":10486.6}]},
     "mark":{"type":"line","color":"#0000ff","strokeWidth":1,"clip":true},
     "encoding":{"x":{"field":"i","type":"quantitative","axis":null},"y":{"field":"v","type":"quantitative","axis":null}}},
    {"data":{"values":[{"i":-0.83,"v":10573.3},{"i":8.75,"v":10571.3},{"i":15.14,"v":10575.3},{"i":23.1,"v":10581.3},{"i":31.1,"v":10586.7},{"i":40.7,"v":10590},{"i":51.9,"v":10589.3},{"i":63.1,"v":10588},{"i":75.9,"v":10585.3},{"i":82.3,"v":10581.3},{"i":88.7,"v":10578.7},{"i":95,"v":10570},{"i":101.4,"v":10561.3},{"i":107.8,"v":10553.3},{"i":111.8,"v":10548.6}]},
     "mark":{"type":"line","color":"#ff0000","strokeWidth":1,"clip":true},
     "encoding":{"x":{"field":"i","type":"quantitative","axis":null},"y":{"field":"v","type":"quantitative","axis":null}}},
    {"data":{"values":[{"i":19.14,"v":10718},{"i":115.2,"v":10582}]},
     "mark":{"type":"line","color":"#ff0000","strokeWidth":1.5,"clip":true},
     "encoding":{"x":{"field":"i","type":"quantitative","axis":null},"y":{"field":"v","type":"quantitative","axis":null}}},
    {"data":{"values":[{"id":"a","i":-0.83,"v":10562.7},{"id":"a","i":115.2,"v":10562.7},{"id":"b","i":-0.83,"v":10531.3},{"id":"b","i":115.2,"v":10472.6},{"id":"c","i":-0.83,"v":10341.9},{"id":"c","i":115.2,"v":10421.9}]},
     "mark":{"type":"line","color":"#008080","strokeWidth":2,"clip":true},
     "encoding":{"x":{"field":"i","type":"quantitative","axis":null},"y":{"field":"v","type":"quantitative","axis":null},"detail":{"field":"id","type":"nominal"}}},
    {"data":{"values":[{"v":10545.006,"t":"10545.006","k":"r"},{"v":10482.299,"t":"10482.299","k":"b"},{"v":10410.83,"t":"10410.83","k":"k"}]},
     "layer":[
      {"mark":{"type":"point","shape":"M-1,-0.22L1,-0.22L1,0.22L-1,0.22Z","size":3025,"filled":true,"opacity":1,"strokeWidth":0,"xOffset":27.5},
       "encoding":{"x":{"value":"width"},"y":{"field":"v","type":"quantitative","axis":null},"color":{"field":"k","type":"nominal","scale":{"domain":["b","r","k"],"range":["#0000ff","#ff0000","#000000"]},"legend":null}}},
      {"mark":{"type":"text","align":"left","baseline":"middle","dx":2,"fontSize":11,"color":"#ffffff"},
       "encoding":{"x":{"value":"width"},"y":{"field":"v","type":"quantitative","axis":null},"text":{"field":"t"}}}
     ]},
    {"data":{"values":[{"k":"s","i0":-0.834,"i1":0.604,"t":""},{"k":"w","i0":0.604,"i1":26.49,"t":"INDU"},{"k":"y","i0":26.49,"i1":56.69,"t":"10410.83"}]},
     "layer":[
      {"mark":{"type":"rect","stroke":"#000000","strokeWidth":1},
       "encoding":{"x":{"field":"i0","type":"quantitative","axis":null},"x2":{"field":"i1"},"y":{"datum":10755,"type":"quantitative","axis":null},"y2":{"datum":10717.9},
        "fill":{"field":"k","type":"nominal","scale":{"domain":["s","w","y"],"range":["#1e50dc","#ffffff","#ffff00"]},"legend":null},
        "strokeOpacity":{"condition":{"test":"datum.k == 's'","value":0},"value":1}}},
      {"mark":{"type":"text","align":"right","baseline":"middle","dx":-3,"fontSize":12,"color":"#000000"},
       "encoding":{"x":{"field":"i1","type":"quantitative","axis":null},"y":{"datum":10736.4,"type":"quantitative","axis":null},"text":{"field":"t"}}}
     ]}
   ]},
  {"width":9,"height":227,"view":{"fill":"#8c8cdc","stroke":null},"data":{"values":[{"t":""}]},"mark":{"type":"text","fontSize":0},"encoding":{"text":{"field":"t"}}},
  {"width":241,"height":208,"resolve":{"axis":{"x":"independent","y":"independent"}},
   "layer":[
    {"data":{"name":"cx"},"mark":{"type":"rule","color":"#000000","strokeWidth":1},
     "encoding":{
      "x":{"field":"i","type":"quantitative","scale":{"domain":[-0.42,117.3],"nice":false,"zero":false},
           "axis":{"orient":"bottom","values":[3,38,73,108],"labelExpr":"['8','15','22','29'][indexof([3,38,73,108], datum.value)]","ticks":false,"domain":true,"domainColor":"#000000","grid":true,"gridDash":[1,24],"gridColor":"#8c8c8c","labelPadding":3,"labelFontSize":11,"title":null,"labelOverlap":false,"labelFlush":false}},
      "y":{"field":"l","type":"quantitative","scale":{"type":"log","domain":[2108.9,2192.7],"nice":false,"zero":false},
           "axis":{"orient":"right","values":[2110,2120,2130,2140,2150,2160,2170,2180,2190],"labelExpr":"datum.value % 20 == 0 ? format(datum.value, '.2f') : ''","ticks":false,"domain":true,"domainColor":"#000000","grid":true,"gridDash":[1,3],"gridColor":"#8c8c8c","labelPadding":2,"labelFontSize":11.5,"labelOverlap":false,"labelFlush":false,"title":"LOG","titleAngle":0,"titleAlign":"right","titleBaseline":"alphabetic","titleX":53,"titleY":206,"titleFontSize":12,"titleFontWeight":"normal"}},
      "y2":{"field":"h"}}},
    {"data":{"name":"cx"},"mark":{"type":"bar","width":1.4,"stroke":"#000000","strokeWidth":0.8},
     "encoding":{
      "x":{"field":"i","type":"quantitative","axis":null},
      "y":{"field":"o","type":"quantitative","axis":null},
      "y2":{"field":"c"},
      "fill":{"condition":{"test":"datum.c >= datum.o","value":"#ffffff"},"value":"#ff0000"}}},
    {"data":{"values":[{"i":7.2,"v":2190.5},{"i":12.9,"v":2185.8},{"i":23.5,"v":2181.7},{"i":31.7,"v":2176.4},{"i":38.2,"v":2170.3},{"i":43.1,"v":2169},{"i":47.9,"v":2166.3},{"i":54.5,"v":2161.6},{"i":61,"v":2158.2},{"i":67.5,"v":2154.2},{"i":74,"v":2150.9},{"i":80.5,"v":2147.5},{"i":87,"v":2146.2},{"i":93.5,"v":2144.2},{"i":100.1,"v":2142.1},{"i":106.6,"v":2138.1},{"i":111.5,"v":2136.1},{"i":113.1,"v":2136.1}]},
     "mark":{"type":"line","color":"#0000ff","strokeWidth":1,"clip":true},
     "encoding":{"x":{"field":"i","type":"quantitative","axis":null},"y":{"field":"v","type":"quantitative","axis":null}}},
    {"data":{"values":[{"i":-0.42,"v":2152.2},{"i":8.86,"v":2153.6},{"i":18.6,"v":2156.2},{"i":28.4,"v":2157.2},{"i":38.2,"v":2157.2},{"i":47.9,"v":2156.6},{"i":57.7,"v":2155.8},{"i":67.5,"v":2154.5},{"i":77.3,"v":2153.6},{"i":87,"v":2152.2},{"i":96.8,"v":2150.2},{"i":103.3,"v":2148.5},{"i":113.1,"v":2147.2}]},
     "mark":{"type":"line","color":"#ff0000","strokeWidth":1,"clip":true},
     "encoding":{"x":{"field":"i","type":"quantitative","axis":null},"y":{"field":"v","type":"quantitative","axis":null}}},
    {"data":{"values":[{"id":"a","i":-0.42,"v":2165.4},{"id":"a","i":117.3,"v":2165.4},{"id":"b","i":-0.42,"v":2128.0},{"id":"b","i":117.3,"v":2191.4}]},
     "mark":{"type":"line","color":"#ff0000","strokeWidth":1.5,"clip":true},
     "encoding":{"x":{"field":"i","type":"quantitative","axis":null},"y":{"field":"v","type":"quantitative","axis":null},"detail":{"field":"id","type":"nominal"}}},
    {"data":{"values":[{"i":-0.42,"v":2154.2},{"i":117.3,"v":2154.2}]},
     "mark":{"type":"line","color":"#008080","strokeWidth":2,"clip":true},
     "encoding":{"x":{"field":"i","type":"quantitative","axis":null},"y":{"field":"v","type":"quantitative","axis":null}}},
    {"data":{"values":[{"v":2146.829,"t":"2146.829","k":"r"},{"v":2135.687,"t":"2135.687","k":"b"},{"v":2129.10,"t":"2129.10","k":"k"}]},
     "layer":[
      {"mark":{"type":"point","shape":"M-1,-0.22L1,-0.22L1,0.22L-1,0.22Z","size":3025,"filled":true,"opacity":1,"strokeWidth":0,"xOffset":27.5},
       "encoding":{"x":{"value":"width"},"y":{"field":"v","type":"quantitative","axis":null},"color":{"field":"k","type":"nominal","scale":{"domain":["b","r","k"],"range":["#0000ff","#ff0000","#000000"]},"legend":null}}},
      {"mark":{"type":"text","align":"left","baseline":"middle","dx":2,"fontSize":11,"color":"#ffffff"},
       "encoding":{"x":{"value":"width"},"y":{"field":"v","type":"quantitative","axis":null},"text":{"field":"t"}}}
     ]},
    {"data":{"values":[{"k":"s","i0":-0.42,"i1":1.045,"t":""},{"k":"w","i0":1.045,"i1":27.42,"t":"COMPX"},{"k":"y","i0":27.42,"i1":60.15,"t":"2129.10"}]},
     "layer":[
      {"mark":{"type":"rect","stroke":"#000000","strokeWidth":1},
       "encoding":{"x":{"field":"i0","type":"quantitative","axis":null},"x2":{"field":"i1"},"y":{"datum":2192.7,"type":"quantitative","axis":null},"y2":{"datum":2185.3},
        "fill":{"field":"k","type":"nominal","scale":{"domain":["s","w","y"],"range":["#1e50dc","#ffffff","#ffff00"]},"legend":null},
        "strokeOpacity":{"condition":{"test":"datum.k == 's'","value":0},"value":1}}},
      {"mark":{"type":"text","align":"right","baseline":"middle","dx":-3,"fontSize":12,"color":"#000000"},
       "encoding":{"x":{"field":"i1","type":"quantitative","axis":null},"y":{"datum":2189.0,"type":"quantitative","axis":null},"text":{"field":"t"}}}
     ]}
   ]}
 ]}
]
}
